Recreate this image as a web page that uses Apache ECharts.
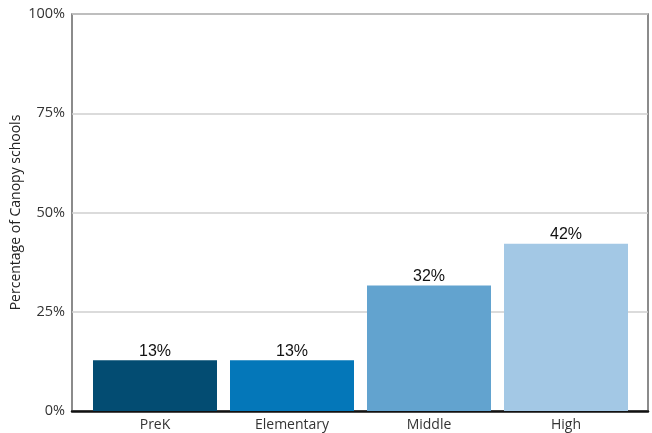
<!DOCTYPE html>
<html>
<head>
<meta charset="utf-8">
<script src="https://cdn.jsdelivr.net/npm/echarts@6/dist/echarts.min.js"></script>
<style>html,body{margin:0;padding:0;background:#fff;}#c{width:652px;height:433px;}</style>
</head>
<body>
<div id="c"></div>
<script>
var categories = ['PreK', 'Elementary', 'Middle', 'High'];
var values = [12.8, 12.8, 31.6, 42.1];
var colors = ['#034c72', '#0477b9', '#62a3cf', '#a3c8e5'];
var yTicks = [0, 25, 50, 75, 100];

var chart = echarts.init(document.getElementById('c'));
chart.setOption({
  animation: false,
  grid: [
    {left: 72, right: 4, top: 14, bottom: 22, show: true, borderColor: '#666', borderWidth: 1.5, backgroundColor: 'transparent', containLabel: false, outerBoundsMode: 'none'},
    {left: 86.5, right: 17.5, top: 14, bottom: 22, containLabel: false, outerBoundsMode: 'none'}
  ],
  xAxis: [
    {type: 'value', gridIndex: 0, min: 0, max: 1, show: true, axisLabel: {show: false}, axisTick: {show: false}, splitLine: {show: false},
     axisLine: {show: true, lineStyle: {color: '#111', width: 2.5}}},
    {type: 'category', gridIndex: 1, data: categories, axisLine: {show: false}, axisTick: {show: false},
     axisLabel: {color: '#333', fontFamily: 'Open Sans', fontSize: 14, margin: 7}}
  ],
  yAxis: [
    {type: 'value', gridIndex: 0, min: 0, max: 100, interval: 25,
     name: 'Percentage of Canopy schools', nameLocation: 'middle', nameGap: 49, nameMoveOverlap: false,
     nameTextStyle: {color: '#222', fontFamily: 'Open Sans', fontSize: 14},
     axisLine: {show: false}, axisTick: {show: false},
     axisLabel: {color: '#333', fontFamily: 'Open Sans', fontSize: 14.5, margin: 7, formatter: function (v) { return yTicks.indexOf(v) >= 0 ? v + '%' : ''; }},
     splitLine: {show: true, lineStyle: {color: '#cfcfcf', width: 1.5}}},
    {type: 'value', gridIndex: 1, min: 0, max: 100, show: false}
  ],
  series: [{
    type: 'bar', xAxisIndex: 1, yAxisIndex: 1,
    barWidth: 124,
    data: values.map(function (v, i) { return {value: v, itemStyle: {color: colors[i]}}; }),
    label: {show: true, position: 'top', distance: 1, color: '#111', fontFamily: 'Liberation Sans', fontSize: 16,
            formatter: function (p) { return Math.round(p.value) + '%'; }}
  }]
});
</script>
</body>
</html>
